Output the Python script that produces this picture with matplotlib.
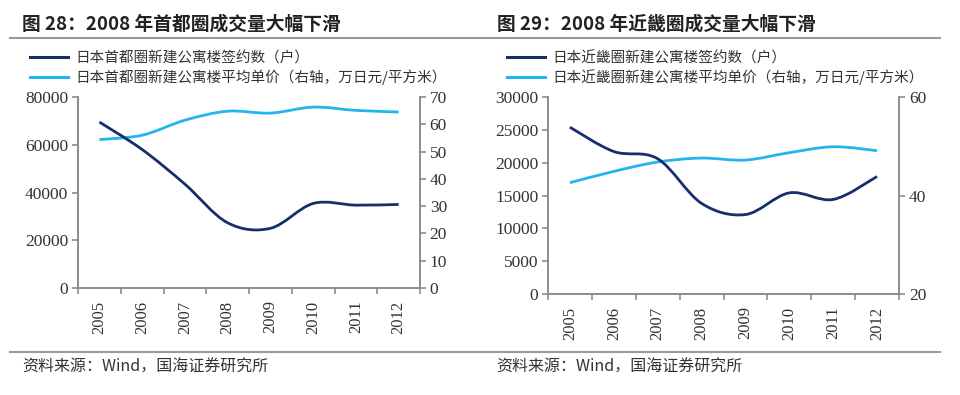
import matplotlib
matplotlib.use("Agg")
import matplotlib.pyplot as plt
from matplotlib.path import Path
from matplotlib.patches import PathPatch
from matplotlib.lines import Line2D

plt.rcParams['font.family'] = ['Noto Sans CJK SC', 'DejaVu Sans']

years = ['2005', '2006', '2007', '2008', '2009', '2010', '2011', '2012']

# 首都圈
tokyo_count = [69500, 58000, 43500, 27300, 25000, 35400, 34700, 35000]
tokyo_price = [54.4, 56.0, 61.5, 64.8, 64.1, 66.3, 65.1, 64.5]

# 近畿圈
kinki_count = [25400, 21700, 20600, 13800, 12100, 15400, 14400, 17900]
kinki_price = [42.6, 44.9, 46.8, 47.6, 47.2, 48.7, 49.9, 49.1]

DARK = '#162f6b'
LIGHT = '#22b6ec'
GRAY = '#8c8c8c'
TXT = '#333333'
SERIF = 'Liberation Serif'


def smooth_path(xs, ys):
    # excel-style smoothed line as cubic bezier segments
    pts = list(zip(xs, ys))
    n = len(pts)
    verts = [pts[0]]
    codes = [Path.MOVETO]
    for i in range(n - 1):
        p0 = pts[i - 1] if i > 0 else pts[i]
        p1 = pts[i]
        p2 = pts[i + 1]
        p3 = pts[i + 2] if i + 2 < n else pts[i + 1]
        c1 = (p1[0] + (p2[0] - p0[0]) / 6, p1[1] + (p2[1] - p0[1]) / 6)
        c2 = (p2[0] - (p3[0] - p1[0]) / 6, p2[1] - (p3[1] - p1[1]) / 6)
        verts += [c1, c2, p2]
        codes += [Path.CURVE4] * 3
    return Path(verts, codes)


def draw_panel(rect, count, price, lmax, lstep, rmin, rmax, rstep,
               title, source, labels, legend_xy, text_x):
    ax = fig.add_axes(rect)
    ax2 = ax.twinx()
    x = list(range(len(years)))
    ax2.add_patch(PathPatch(smooth_path(x, price), fill=False, color=LIGHT,
                            lw=2.0, capstyle='butt', zorder=2))
    ax.add_patch(PathPatch(smooth_path(x, count), fill=False, color=DARK,
                           lw=2.0, capstyle='butt', zorder=3))
    ax.set_zorder(ax2.get_zorder() + 1)
    ax.patch.set_visible(False)

    ax.set_xlim(-0.5, len(years) - 0.5)
    ax.set_ylim(0, lmax)
    ax2.set_ylim(rmin, rmax)
    ax.set_yticks(range(0, lmax + 1, lstep))
    ax2.set_yticks(range(rmin, rmax + 1, rstep))
    ax.set_xticks([i - 0.5 for i in range(len(years) + 1)])
    ax.set_xticklabels([])
    ax.set_xticks(x, minor=True)
    ax.set_xticklabels(years, minor=True, rotation=90, fontfamily=SERIF,
                       fontsize=12, color=TXT)
    ax.tick_params(axis='x', which='minor', length=0, pad=9)
    ax.tick_params(axis='x', which='major', length=4, color=GRAY, width=1.2)
    ax.tick_params(axis='y', length=4, color=GRAY, width=1.2, pad=3)
    ax2.tick_params(axis='y', length=4, color=GRAY, width=1.2, pad=3)
    for lab in ax.get_yticklabels() + ax2.get_yticklabels():
        lab.set_fontfamily(SERIF)
        lab.set_fontsize(12.5)
        lab.set_color(TXT)
    for a in (ax, ax2):
        a.spines['top'].set_visible(False)
        for s in ('left', 'right', 'bottom'):
            a.spines[s].set_color(GRAY)
            a.spines[s].set_linewidth(1.2)

    handles = [Line2D([], [], color=DARK, lw=2.2),
               Line2D([], [], color=LIGHT, lw=2.2)]
    fig.legend(handles, labels, loc='upper left', bbox_to_anchor=legend_xy,
               frameon=False, fontsize=10.5, handlelength=2.6,
               handletextpad=0.5, labelspacing=0.25, borderpad=0,
               borderaxespad=0, labelcolor=TXT)

    fig.text(text_x, 0.939, title, fontsize=13.5, fontweight='bold',
             va='center', color='#222222')
    fig.text(text_x, 0.071, source, fontsize=11.5, va='center', color=TXT)


fig = plt.figure(figsize=(9.6, 3.95), dpi=100)

draw_panel([0.0813, 0.2709, 0.3562, 0.4835], tokyo_count, tokyo_price,
           80000, 20000, 0, 70, 10,
           '图 28：2008 年首都圈成交量大幅下滑',
           '资料来源：Wind，国海证券研究所',
           ['日本首都圈新建公寓楼签约数（户）',
            '日本首都圈新建公寓楼平均单价（右轴，万日元/平方米）'],
           (0.031, 0.870), 0.0233)
draw_panel([0.5708, 0.2557, 0.3657, 0.4987], kinki_count, kinki_price,
           30000, 5000, 20, 60, 20,
           '图 29：2008 年近畿圈成交量大幅下滑',
           '资料来源：Wind，国海证券研究所',
           ['日本近畿圈新建公寓楼签约数（户）',
            '日本近畿圈新建公寓楼平均单价（右轴，万日元/平方米）'],
           (0.528, 0.870), 0.5173)

# separator rules under titles and above sources
for yy in (0.9046, 0.1097):
    fig.add_artist(Line2D([0.0104, 0.979], [yy, yy], color='#9a9a9a', lw=1.5))

fig.savefig('out.png', dpi=100)
